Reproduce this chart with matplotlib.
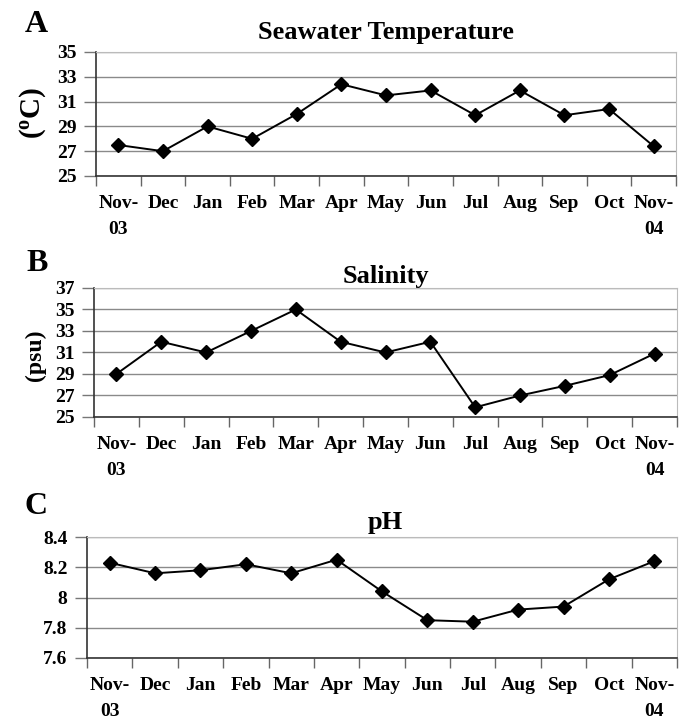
import matplotlib
matplotlib.use("Agg")
import matplotlib.pyplot as plt
import numpy as np

plt.rcParams['font.family'] = ['Liberation Serif', 'DejaVu Serif']
plt.rcParams['font.weight'] = 'bold'
plt.rcParams['mathtext.fontset'] = 'custom'
plt.rcParams['mathtext.rm'] = 'Liberation Serif:bold'
plt.rcParams['mathtext.bf'] = 'Liberation Serif:bold'
plt.rcParams['mathtext.it'] = 'Liberation Serif:bold'

months = ["Nov-\n03", "Dec", "Jan", "Feb", "Mar", "Apr", "May", "Jun",
          "Jul", "Aug", "Sep", "Oct", "Nov-\n04"]
temperature = [27.5, 27.0, 29.0, 28.0, 30.0, 32.4, 31.5, 31.9, 29.9, 31.9, 29.9, 30.4, 27.4]
salinity = [29.0, 32.0, 31.0, 33.0, 35.0, 32.0, 31.0, 32.0, 25.9, 27.0, 27.9, 28.9, 30.9]
ph = [8.23, 8.16, 8.18, 8.22, 8.16, 8.25, 8.04, 7.85, 7.84, 7.92, 7.94, 8.12, 8.24]

temp_ticks = [25, 27, 29, 31, 33, 35]
sal_ticks = [25, 27, 29, 31, 33, 35, 37]
ph_ticks = [7.6, 7.8, 8.0, 8.2, 8.4]
ph_ticklabels = ["7.6", "7.8", "8", "8.2", "8.4"]

W, H = 684, 723
fig = plt.figure(figsize=(W / 100, H / 100), dpi=100)


def px_axes(left, right, top, bottom):
    return fig.add_axes([left / W, 1 - bottom / H, (right - left) / W, (bottom - top) / H])


def style(ax, values, yticks, yticklabels=None):
    n = len(values)
    x = np.arange(n) + 0.5
    ax.plot(x, values, color='black', lw=1.4, marker='D', ms=7.5,
            markerfacecolor='black', markeredgecolor='black', zorder=3)
    ax.set_xlim(0, n)
    ax.set_ylim(yticks[0], yticks[-1])
    ax.set_yticks(yticks)
    if yticklabels is not None:
        ax.set_yticklabels(yticklabels)
    ax.set_xticks(np.arange(n + 1))
    ax.set_xticklabels([])
    ax.set_xticks(x, minor=True)
    ax.set_xticklabels(months, minor=True, fontsize=14, fontweight='bold',
                       linespacing=1.68, va='top')
    ax.tick_params(axis='x', which='minor', length=0, pad=14)
    ax.tick_params(axis='x', which='major', length=7, width=1, color='#666666', direction='out')
    ax.tick_params(axis='y', length=9, width=1, color='#777777', pad=5, labelsize=14)
    for lab in ax.get_yticklabels():
        lab.set_fontweight('bold')
    ax.grid(axis='y', color='#8a8a8a', lw=1.0)
    ax.set_axisbelow(True)
    ax.spines['left'].set_color('#333333')
    ax.spines['bottom'].set_color('#333333')
    ax.spines['left'].set_linewidth(1.2)
    ax.spines['bottom'].set_linewidth(1.2)
    ax.spines['top'].set_color('#bbbbbb')
    ax.spines['right'].set_color('#bbbbbb')
    ax.spines['top'].set_linewidth(0.8)
    ax.spines['right'].set_linewidth(0.8)


axA = px_axes(96, 676, 52, 176)
style(axA, temperature, temp_ticks)
axB = px_axes(94, 677, 288, 417)
style(axB, salinity, sal_ticks)
axC = px_axes(87, 677, 537, 658)
style(axC, ph, ph_ticks, ph_ticklabels)

# Titles
fig.text(386 / W, 1 - 33 / H, "Seawater Temperature", ha='center', va='center',
         fontsize=19, fontweight='bold')
fig.text(386 / W, 1 - 276 / H, "Salinity", ha='center', va='center',
         fontsize=19, fontweight='bold')
fig.text(385 / W, 1 - 523 / H, "pH", ha='center', va='center',
         fontsize=19, fontweight='bold')

# Panel letters
fig.text(36 / W, 1 - 24 / H, "A", ha='center', va='center', fontsize=23, fontweight='bold')
fig.text(37 / W, 1 - 263 / H, "B", ha='center', va='center', fontsize=23, fontweight='bold')
fig.text(36 / W, 1 - 507 / H, "C", ha='center', va='center', fontsize=23, fontweight='bold')

# Y labels
fig.text(33 / W, 1 - 113 / H, r"$\mathbf{(^{o}C)}$", ha='center', va='center',
         rotation=90, fontsize=21)
fig.text(35 / W, 1 - 355 / H, "(psu)", ha='center', va='center', rotation=90,
         fontsize=17, fontweight='bold')

fig.savefig("out.png", dpi=100)
